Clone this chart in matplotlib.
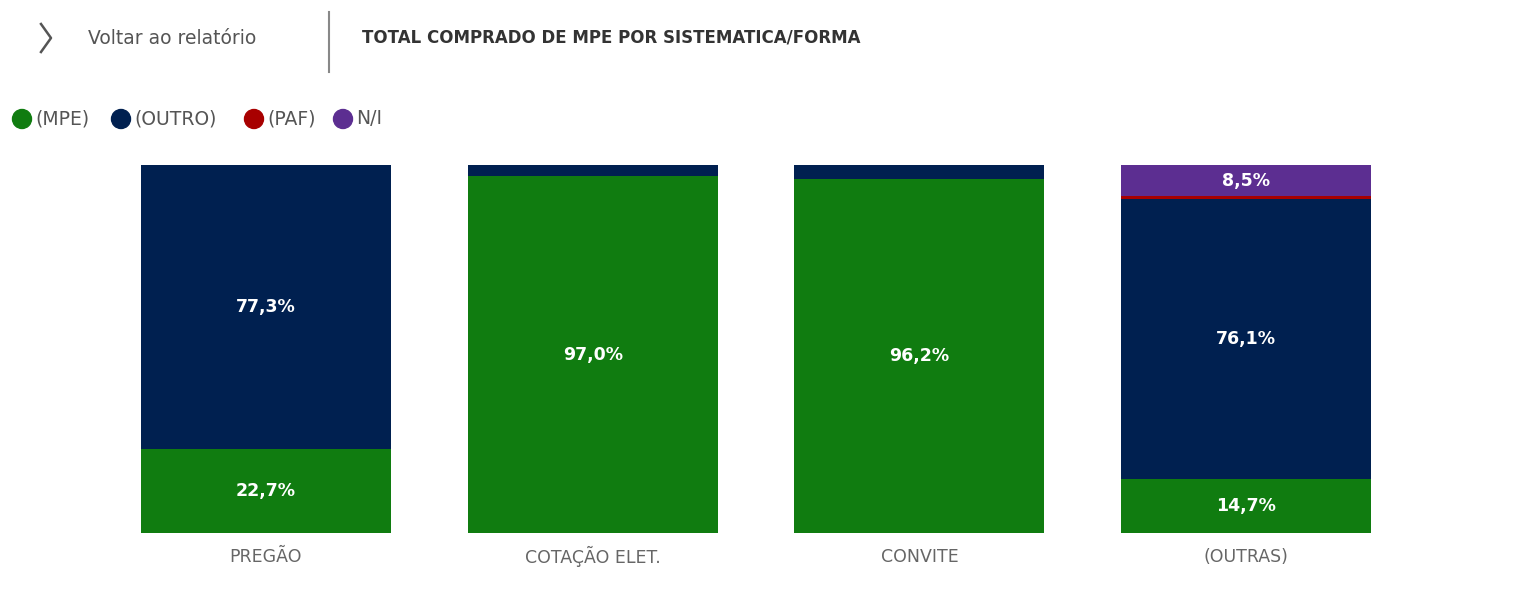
import matplotlib
matplotlib.use("Agg")
import matplotlib.pyplot as plt
import numpy as np

categories = ["PREGÃO", "COTAÇÃO ELET.", "CONVITE", "(OUTRAS)"]
series = ["(MPE)", "(OUTRO)", "(PAF)", "N/I"]
mpe = [22.7, 97.0, 96.2, 14.7]
outro = [77.3, 3.0, 3.8, 76.1]
paf = [0.0, 0.0, 0.0, 0.7]
ni = [0.0, 0.0, 0.0, 8.5]
colors = ["#107C10", "#002050", "#A80000", "#5C2E91"]

W, H = 1520, 594
fig = plt.figure(figsize=(W/100, H/100), dpi=100)
ax = fig.add_axes([102.5/W, 1-533/H, 1307/W, 368/H])
x = np.arange(len(categories))
bottom = np.zeros(len(categories))
for vals, c in zip([mpe, outro, paf, ni], colors):
    vals = np.array(vals)
    ax.bar(x, vals, 0.765, bottom=bottom, color=c, linewidth=0)
    for xi, v, b in zip(x, vals, bottom):
        if v >= 8:
            ax.text(xi, b + v/2, f"{v:.1f}%".replace(".", ","), ha="center", va="center",
                    color="white", fontsize=12.5, fontweight="bold")
    bottom += vals
ax.set_xlim(-0.5, 3.5)
ax.set_ylim(0, 100)
ax.axis("off")
for xi, c in zip(x, categories):
    ax.text(xi, -6.5, c, ha="center", va="center", color="#666666", fontsize=12.5,
            transform=ax.transData)

# header
fig.text(35/W, 1-38/H, "<", fontsize=20, color="#555555", va="center", ha="left")
fig.lines.append(plt.Line2D([41/W, 51/W, 41/W], [1-24/H, 1-38/H, 1-52/H], color="#555555", lw=1.8, transform=fig.transFigure))
fig.texts[-1].set_visible(False)
fig.text(88/W, 1-38/H, "Voltar ao relatório", fontsize=13.5, color="#555555", va="center")
fig.lines.append(plt.Line2D([329/W, 329/W], [1-12/H, 1-72/H], color="#888888", lw=1.5, transform=fig.transFigure))
fig.text(362/W, 1-38/H, "TOTAL COMPRADO DE MPE POR SISTEMATICA/FORMA", fontsize=12,
         fontweight="bold", color="#333333", va="center")

# legend
lx = [22, 121, 254, 343]
for px, s, c in zip(lx, series, colors):
    fig.patches.append(matplotlib.patches.Ellipse((px/W, 1-119/H), 19/W, 19/H, color=c, transform=fig.transFigure))
    fig.text((px+13)/W, 1-119/H, s, fontsize=13.5, color="#555555", va="center")

fig.savefig("out.png", dpi=100)
